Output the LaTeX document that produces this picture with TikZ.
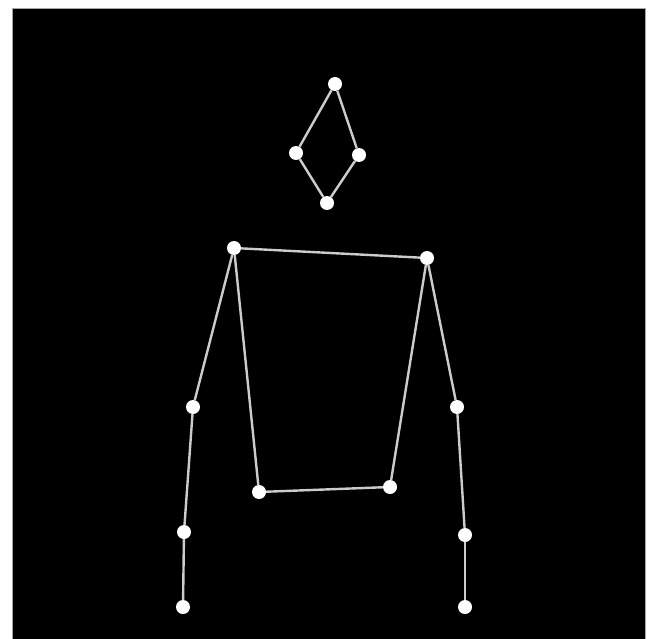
\documentclass[tikz,border=0pt]{standalone}
\tikzset{
  joint/.style={circle, fill=white, inner sep=0pt, minimum size=14pt},
  bone/.style={draw=white!80!black, line width=2.4pt}
}
\begin{document}
\begin{tikzpicture}[x=1pt, y=-1pt]
  \useasboundingbox (0,0) rectangle (650,639);
  \fill[white] (0,0) rectangle (650,639);
  \draw[fill=black, draw=black!35, line width=0.8pt] (12.5,8) rectangle (645,645);
  % keypoints
  \path
    (335,84) node[joint] (nose){}
    (296,153) node[joint] (leye){}
    (359,155) node[joint] (reye){}
    (327,203) node[joint] (chin){}
    (234,248) node[joint] (lshoulder){}
    (427,258) node[joint] (rshoulder){}
    (193,407) node[joint] (lelbow){}
    (457,407) node[joint] (relbow){}
    (184,532) node[joint] (lwrist){}
    (465,535) node[joint] (rwrist){}
    (183,607) node[joint] (lhand){}
    (465,607) node[joint] (rhand){}
    (259,492) node[joint] (lhip){}
    (390,487) node[joint] (rhip){};
  % bones
  \begin{scope}[-]
    \draw[bone] (nose) to (leye);
    \draw[bone] (nose) to (reye);
    \draw[bone] (leye) to (chin);
    \draw[bone] (reye) to (chin);
    \draw[bone] (lshoulder) to (rshoulder);
    \draw[bone] (lshoulder) to (lelbow);
    \draw[bone] (lelbow) to (lwrist);
    \draw[bone] (lwrist) to (lhand);
    \draw[bone] (rshoulder) to (relbow);
    \draw[bone] (relbow) to (rwrist);
    \draw[bone] (rwrist) to (rhand);
    \draw[bone] (lshoulder) to (lhip);
    \draw[bone] (rshoulder) to (rhip);
    \draw[bone] (lhip) to (rhip);
  \end{scope}
\end{tikzpicture}
\end{document}
